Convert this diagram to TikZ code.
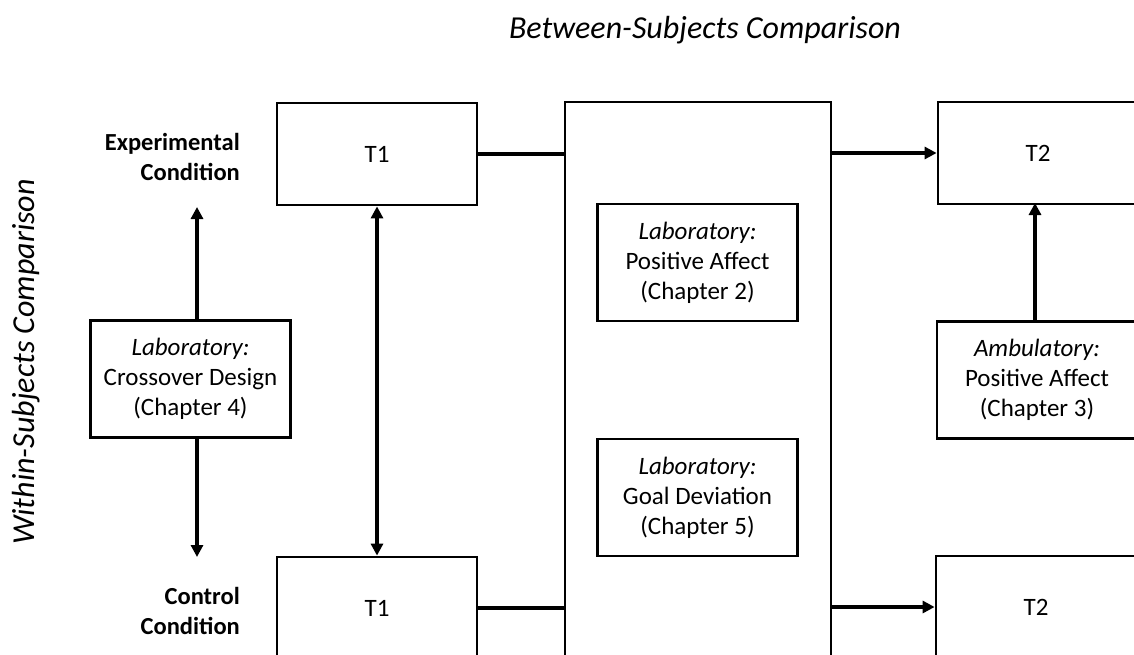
\documentclass[tikz,border=0pt]{standalone}
\usepackage{fontspec}
\setmainfont{Carlito}
\usetikzlibrary{arrows.meta}
\begin{document}
\begin{tikzpicture}[x=1pt,y=-1pt,
  txt/.style={font=\fontsize{25}{30}\selectfont},
  bx/.style={draw,line width=2.8pt,minimum width=200pt,minimum height=102pt,align=center,txt,inner sep=0pt},
  ibx/.style={draw,line width=2.2pt,minimum width=200pt,minimum height=117pt,align=center,txt,inner sep=0pt},
  ln/.style={line width=3.2pt},
  arr/.style={line width=3.2pt,-{Triangle[length=12pt,width=12pt]}},
  darr/.style={line width=3.2pt,{Triangle[length=12pt,width=12pt]}-{Triangle[length=12pt,width=12pt]}},
  lab/.style={align=right,anchor=east,font=\fontsize{24.5}{30}\selectfont\bfseries,inner sep=0pt},
  ttl/.style={font=\fontsize{32}{38}\selectfont\itshape,inner sep=0pt}]
\useasboundingbox (0,0) rectangle (1134,655);
\clip (0,0) rectangle (1134,655);
% titles
\node[ttl] (titleB) at (705,30) {Between-Subjects Comparison};
\node[ttl,rotate=90] (titleW) at (26,362) {Within-Subjects Comparison};
% row labels
\node[lab] (labE) at (240,157) {Experimental\\Condition};
\node[lab] (labC) at (240,611) {Control\\Condition};
% boxes
\node[bx] (t1e) at (377,154) {T1};
\node[bx] (t1c) at (377,608) {T1};
\node[bx] (t2e) at (1038,153) {T2};
\node[bx] (t2c) at (1036,607) {T2};
\node[draw,line width=2.8pt,minimum width=266pt,minimum height=570pt,inner sep=0pt] (mid) at (698,387) {};
\node[ibx] (lpa) at (697.5,262.5) {\textit{Laboratory:}\\Positive Affect\\(Chapter 2)};
\node[ibx] (lgd) at (697.5,497.5) {\textit{Laboratory:}\\Goal Deviation\\(Chapter 5)};
\node[ibx] (lcd) at (190.5,379) {\textit{Laboratory:}\\Crossover Design\\(Chapter 4)};
\node[ibx] (apa) at (1037,380) {\textit{Ambulatory:}\\Positive Affect\\(Chapter 3)};
% connectors
\coordinate (ae) at (197,207);
\coordinate (ac) at (197,557);
\draw[arr] (lcd.north -| ae) -- (ae);
\draw[arr] (lcd.south -| ac) -- (ac);
\draw[darr] (t1e.south) -- (t1c.north);
\draw[ln] (t1e.east) -- (t1e.east -| mid.west);
\draw[ln] (t1c.east) -- (t1c.east -| mid.west);
\draw[arr] (t2e.west -| mid.east) -- (t2e.west);
\draw[arr] (t2c.west -| mid.east) -- (t2c.west);
\coordinate (aa) at (1035,203);
\draw[arr] (apa.north -| aa) -- (aa);
\end{tikzpicture}
\end{document}
